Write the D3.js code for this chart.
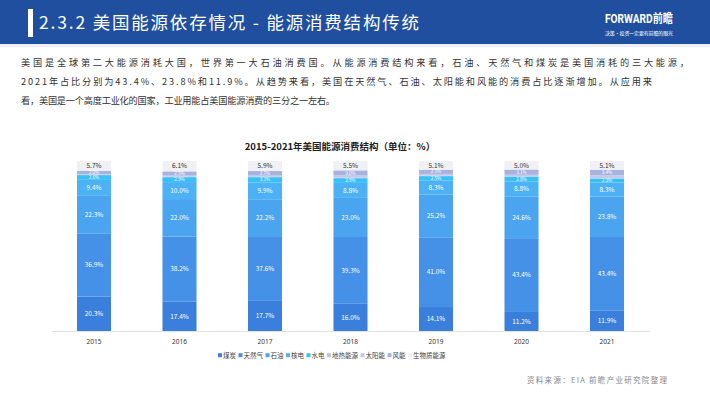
<!DOCTYPE html>
<html><head><meta charset="utf-8">
<script src="https://cdn.jsdelivr.net/npm/d3@7"></script>
<style>
body{margin:0;background:#fff;}
svg{display:block;font-family:"Noto Sans CJK SC","Noto Sans",sans-serif;}
</style></head>
<body>
<svg id="c" width="710" height="399"></svg>
<script>
const years = ["2015","2016","2017","2018","2019","2020","2021"];
const categories = ["煤炭","天然气","石油","核电","水电","地热能源","太阳能","风能","生物质能源"];
const coal    = [20.3,17.4,17.7,16.0,14.1,11.2,11.9];
const gas     = [36.9,38.2,37.6,39.3,41.0,43.4,43.4];
const oil     = [22.3,22.0,22.2,23.0,25.2,24.6,23.8];
const nuclear = [9.4,10.0,9.9,8.8,8.3,8.8,8.3];
const hydro   = [2.8,2.9,3.1,2.8,2.5,2.8,2.3];
const geo     = [0.2,0.2,0.2,0.2,0.2,0.2,0.2];
const solar   = [0.4,0.7,0.7,1.4,1.1,0.9,1.6];
const wind    = [2.0,2.5,2.7,3.0,2.5,3.1,3.4];
const biomass = [5.7,6.1,5.9,5.5,5.1,5.0,5.1];
const seriesValues = [coal,gas,oil,nuclear,hydro,geo,solar,wind,biomass];
const colors = ["#3a7fdb","#4591e8","#4aa4f0","#4cb2f5","#39c0f7","#b9c6ec","#c4c9ea","#a8b2df","#f1f1f3"];

const svg = d3.select("#c");

// header
svg.append("rect").attr("x",0).attr("y",0).attr("width",710).attr("height",44).attr("fill","#1f4f9e");
svg.append("rect").attr("x",0).attr("y",44).attr("width",710).attr("height",3).attr("fill","#e9eef7");
svg.append("rect").attr("x",28).attr("y",9).attr("width",5).attr("height",28).attr("fill","#fff");
svg.append("text").attr("x",39).attr("y",29).attr("fill","#fff").attr("font-size",17.5)
  .attr("textLength",380).attr("lengthAdjust","spacing").text("2.3.2 美国能源依存情况 - 能源消费结构传统");
svg.append("text").attr("x",605).attr("y",23).attr("fill","#fff").attr("font-size",12).attr("font-weight","bold")
  .attr("font-family","Roboto,'Noto Sans CJK SC',sans-serif")
  .attr("textLength",68).attr("lengthAdjust","spacingAndGlyphs").text("FORWARD前瞻");
svg.append("text").attr("x",605).attr("y",35).attr("fill","#fff").attr("font-size",5)
  .attr("textLength",68).attr("lengthAdjust","spacing").text("决策·投资一定要有前瞻的眼光");

// paragraph
const para = [
 ["美国是全球第二大能源消耗大国，世界第一大石油消费国。从能源消费结构来看，石油、天然气和煤炭是美国消耗的三大能源，",668],
 ["2021年占比分别为43.4%、23.8%和11.9%。从趋势来看，美国在天然气、石油、太阳能和风能的消费占比逐渐增加。从应用来",631],
 ["看，美国是一个高度工业化的国家，工业用能占美国能源消费的三分之一左右。",314]
];
para.forEach((p,i)=>{
  svg.append("text").attr("x",21).attr("y",65.5+i*19).attr("font-size",9.2).attr("fill","#333")
    .attr("textLength",p[1]).attr("lengthAdjust","spacing").text(p[0]);
});

// chart title
svg.append("text").attr("x",340).attr("y",150).attr("text-anchor","middle").attr("font-size",9.5)
  .attr("font-weight","bold").attr("fill","#222").text("2015-2021年美国能源消费结构（单位：%）");

// data table
const table = years.map((y,i)=>{
  const o = {year:y};
  categories.forEach((c,k)=>o[c]=seriesValues[k][i]);
  return o;
});
const stack = d3.stack().keys(categories)(table);

const x = d3.scaleBand().domain(years).range([51.25,649.75]).paddingInner(0.602).paddingOuter(0.301);
const y = d3.scaleLinear().domain([0,100]).range([331,161]);

const g = svg.append("g");
stack.forEach((s,k)=>{
  g.selectAll(null).data(s).enter().append("rect")
    .attr("x",d=>x(d.data.year)).attr("width",x.bandwidth())
    .attr("y",d=>y(d[1])).attr("height",d=>Math.max(0,y(d[0])-y(d[1])))
    .attr("fill",colors[k]);
});
stack.forEach((s,k)=>{
  g.selectAll(null).data(s.filter(d=>d[1]-d[0]>=2)).enter().append("text")
    .attr("x",d=>x(d.data.year)+x.bandwidth()/2)
    .attr("y",d=>{const v=d[1]-d[0]; return (y(d[0])+y(d[1]))/2+(v<4?1.7:2.3);})
    .attr("text-anchor","middle")
    .attr("font-size",d=>(d[1]-d[0])<4?4.6:6.5)
    .attr("fill",k===8?"#333":"#fff")
    .text(d=>(d[1]-d[0]).toFixed(1)+"%");
});

// x axis
const ax = svg.append("g").attr("transform","translate(0,331)")
  .call(d3.axisBottom(x).tickSize(0).tickPadding(8));
ax.select(".domain").attr("stroke","#e3e3e3");
ax.selectAll("text").attr("font-size",6.5).attr("fill","#333").attr("font-family","'Noto Sans',sans-serif");

// legend
const lg = svg.append("g").attr("transform","translate(0,357)");
let lx = 218;
categories.forEach((c,k)=>{
  const it = lg.append("g").attr("transform",`translate(${lx},0)`);
  it.append("rect").attr("x",0).attr("y",-3.8).attr("width",4).attr("height",4).attr("fill",colors[k]);
  const t = it.append("text").attr("x",5).attr("y",0.5).attr("font-size",6.5).attr("fill","#444").text(c);
  lx += 5 + t.node().getComputedTextLength() + 2.5;
});

// footer
svg.append("text").attr("x",527).attr("y",383).attr("font-size",7.5).attr("fill","#888")
  .attr("letter-spacing",1.3).text("资料来源：EIA 前瞻产业研究院整理");
</script>
</body></html>
